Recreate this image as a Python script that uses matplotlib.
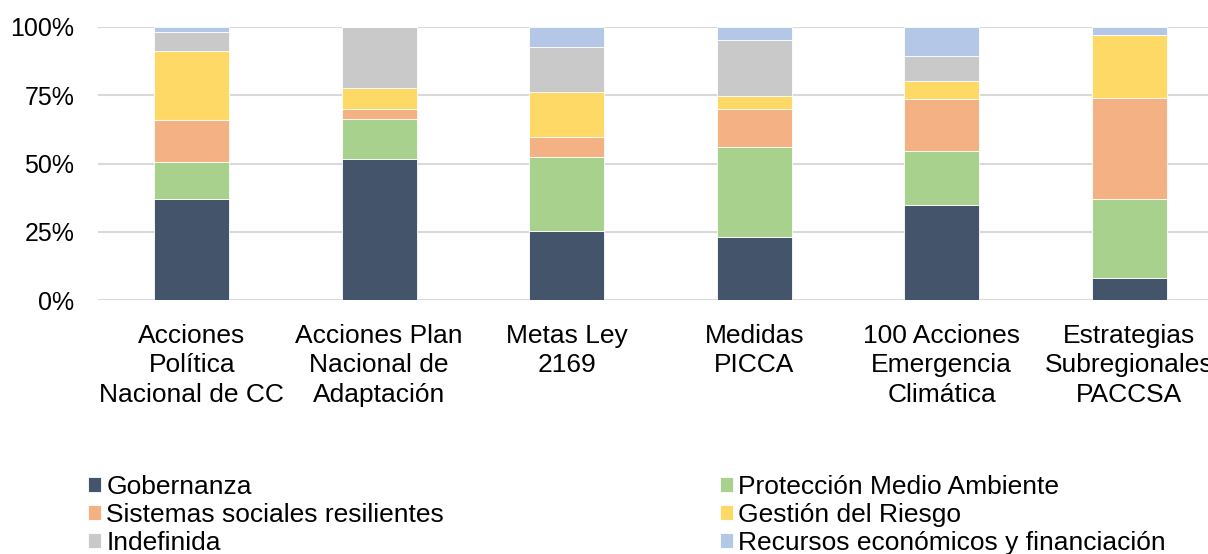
import matplotlib
matplotlib.use("Agg")
import matplotlib.pyplot as plt
import numpy as np
from matplotlib.ticker import FuncFormatter

# categories and series (percent of each instrument)
categories = ["Acciones\nPolítica\nNacional de CC", "Acciones Plan\nNacional de\nAdaptación",
              "Metas Ley\n2169", "Medidas\nPICCA", "100 Acciones\nEmergencia\nClimática",
              "Estrategias\nSubregionales\nPACCSA"]
gobernanza = [37.0, 51.6, 25.2, 23.2, 34.8, 8.2]
proteccion = [13.7, 14.7, 27.2, 32.7, 19.7, 28.7]
sistemas = [15.3, 3.8, 7.3, 14.2, 19.2, 37.2]
gestion = [25.1, 7.4, 16.5, 4.6, 6.6, 22.9]
indefinida = [6.9, 22.5, 16.4, 20.4, 9.2, 0.0]
recursos = [2.0, 0.0, 7.4, 4.9, 10.5, 3.0]

series = [gobernanza, proteccion, sistemas, gestion, indefinida, recursos]
labels = ["Gobernanza", "Protección Medio Ambiente", "Sistemas sociales resilientes",
          "Gestión del Riesgo", "Indefinida", "Recursos económicos y financiación"]
colors = ["#44546A", "#A9D18E", "#F4B183", "#FFD966", "#C9C9C9", "#B4C7E7"]

plt.rcParams['font.family'] = ['Liberation Sans', 'DejaVu Sans']

fig = plt.figure(figsize=(12.08, 5.54), dpi=100)
ax = fig.add_axes([98 / 1208, 254 / 554, 1125 / 1208, 273 / 554])

x = np.arange(len(categories))
data = np.array(series)
data = data / data.sum(axis=0)
bottom = np.zeros(len(categories))
handles = []
for i in range(len(series)):
    h = ax.bar(x, data[i], 0.4, bottom=bottom, color=colors[i], edgecolor="white",
               linewidth=0.6, label=labels[i], zorder=3)
    handles.append(h)
    bottom += data[i]

ax.set_xlim(-0.5, 5.5)
ax.set_ylim(0, 1)
ax.set_yticks([0, 0.25, 0.5, 0.75, 1.0])
ax.yaxis.set_major_formatter(FuncFormatter(lambda v, p: "{:.0f}%".format(v * 100)))
ax.set_xticks(x)
ax.set_xticklabels(categories, fontsize=19, linespacing=1.3)
ax.tick_params(axis='y', length=0, labelsize=18, pad=17)
ax.tick_params(axis='x', length=0, pad=17)
ax.grid(axis='y', color="#D9D9D9", linewidth=1.5, zorder=0)
for s in ax.spines.values():
    s.set_visible(False)

# legend is filled column-wise, so reorder for row-wise reading
order = [0, 2, 4, 1, 3, 5]
fig.legend([handles[i] for i in order], [labels[i] for i in order],
           loc='upper left', bbox_to_anchor=(88 / 1208, 0, 1078 / 1208, 1 - 475 / 554),
           mode="expand", ncol=2, frameon=False, fontsize=19,
           handlelength=0.5, handleheight=0.5, handletextpad=0.2,
           labelspacing=0.15, borderaxespad=0, borderpad=0)

fig.savefig("out.png", dpi=100)
